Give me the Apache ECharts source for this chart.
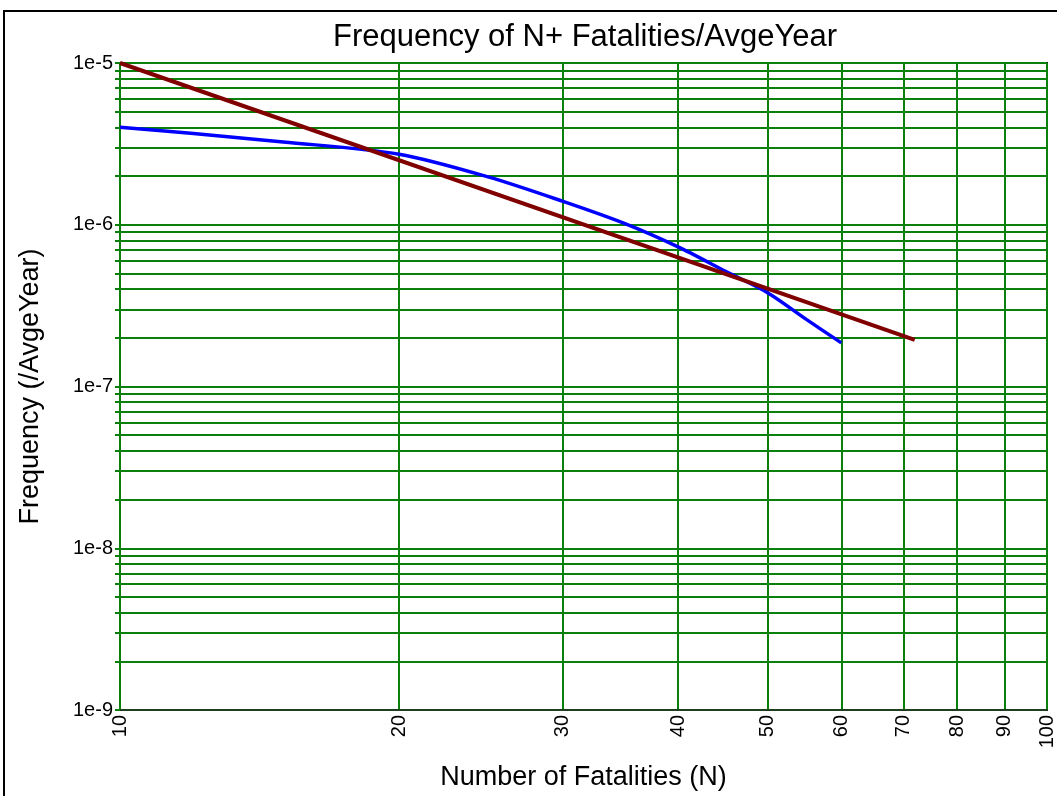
<!DOCTYPE html>
<html>
<head>
<meta charset="utf-8">
<script src="https://cdn.jsdelivr.net/npm/echarts@6/dist/echarts.min.js"></script>
<style>html,body{margin:0;padding:0;background:#fff}#chart{width:1057px;height:796px}</style>
</head>
<body>
<div id="chart"></div>
<script>
// Data
const blueN = [10, 12, 15, 20, 25, 30, 35, 40, 45, 50, 55, 60];
const blueF = [4.0e-6, 3.66e-6, 3.25e-6, 2.73e-6, 1.97e-6, 1.40e-6, 1.02e-6, 7.3e-7, 5.16e-7, 3.79e-7, 2.6e-7, 1.86e-7];
const redN = [10, 72];
const redF = [1.0e-5, 1.94e-7];

// Tick values
const xTickValues = [10, 20, 30, 40, 50, 60, 70, 80, 90, 100];
const yLabelValues = [1e-9, 1e-8, 1e-7, 1e-6, 1e-5];
const yGridValues = [
  1e-9, 2e-9, 3e-9, 4e-9, 5e-9, 6e-9, 7e-9, 8e-9, 9e-9,
  1e-8, 2e-8, 3e-8, 4e-8, 5e-8, 6e-8, 7e-8, 8e-8, 9e-8,
  1e-7, 2e-7, 3e-7, 4e-7, 5e-7, 6e-7, 7e-7, 8e-7, 9e-7,
  1e-6, 2e-6, 3e-6, 4e-6, 5e-6, 6e-6, 7e-6, 8e-6, 9e-6,
  1e-5
];

const FONT = '"Liberation Sans", Arial, sans-serif';
const GREEN = '#0a800a';

const chart = echarts.init(document.getElementById('chart'), null, {renderer: 'canvas'});
chart.setOption({
  animation: false,
  backgroundColor: '#fff',
  textStyle: {fontFamily: FONT},
  title: {
    text: 'Frequency of N+ Fatalities/AvgeYear',
    left: 580, top: 17, textAlign: 'center',
    textStyle: {fontFamily: FONT, fontSize: 31, fontWeight: 'normal', color: '#000'}
  },
  graphic: [{
    type: 'rect', z: -1, silent: true,
    shape: {x: 4, y: 11, width: 1100, height: 900},
    style: {fill: null, stroke: '#000', lineWidth: 2}
  }],
  grid: {left: 120, top: 63, right: 7, bottom: 86, show: true, borderColor: '#000', borderWidth: 2, backgroundColor: '#fff'},
  xAxis: {
    type: 'log', logBase: 10, min: 10, max: 100,
    name: 'Number of Fatalities (N)', nameLocation: 'middle', nameGap: 54,
    nameTextStyle: {fontFamily: FONT, fontSize: 27, color: '#000'},
    axisLine: {show: true, lineStyle: {color: '#1e3f1e', width: 2}},
    axisTick: {show: false, customValues: xTickValues},
    axisLabel: {customValues: xTickValues, rotate: 90, fontFamily: FONT, fontSize: 20, color: '#000', margin: 5,
      formatter: v => String(Math.round(v))},
    splitLine: {show: true, lineStyle: {color: GREEN, width: 2}},
    minorTick: {show: false}, minorSplitLine: {show: false}
  },
  yAxis: {
    type: 'log', logBase: 10, min: 1e-9, max: 1e-5,
    name: 'Frequency (/AvgeYear)', nameLocation: 'middle', nameGap: 76,
    nameTextStyle: {fontFamily: FONT, fontSize: 27, color: '#000'},
    axisLine: {show: true, lineStyle: {color: GREEN, width: 2}},
    axisTick: {show: true, customValues: yGridValues, length: 5, lineStyle: {color: GREEN, width: 2}},
    axisLabel: {customValues: yLabelValues, fontFamily: FONT, fontSize: 20, color: '#000', margin: 7,
      formatter: v => '1e' + Math.round(Math.log10(v))},
    splitLine: {show: true, lineStyle: {color: GREEN, width: 2}}
  },
  series: [
    {
      type: 'line', name: 'blue', showSymbol: false, smooth: 0.3,
      data: blueN.map((n, i) => [n, blueF[i]]),
      lineStyle: {color: '#0000ff', width: 3.5}, z: 3
    },
    {
      type: 'line', name: 'red', showSymbol: false,
      data: redN.map((n, i) => [n, redF[i]]),
      lineStyle: {color: '#800000', width: 4}, z: 4
    }
  ]
});
</script>
</body>
</html>
